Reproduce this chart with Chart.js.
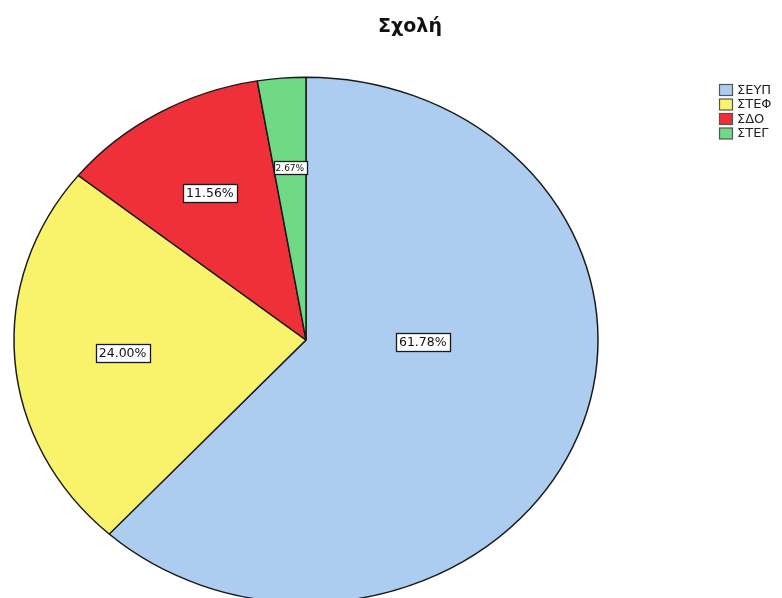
<!DOCTYPE html>
<html>
<head>
<meta charset="utf-8">
<script src="https://cdn.jsdelivr.net/npm/chart.js@4.4.1/dist/chart.umd.min.js"></script>
<style>
    html, body { margin: 0; padding: 0; background: #fff; overflow: hidden; }
    #wrap { position: relative; width: 782px; height: 598px; }
</style>
</head>
<body>
<div id="wrap"><canvas id="schoolChart"></canvas></div>
<script>
// === DATOS ===
const chartTitle = 'Σχολή';
const categories = ['ΣΕΥΠ', 'ΣΤΕΦ', 'ΣΔΟ', 'ΣΤΕΓ'];
const percentages = [61.78, 24.00, 11.56, 2.67];
const sliceColors = ['#accdef', '#f8f36a', '#ef3038', '#6fd985'];

// pie is drawn squashed vertically (ellipse), like the SPSS output
const squashPlugin = {
    id: 'squash',
    beforeDatasetDraw(chart, args, opts) {
        const arc = args.meta.data[0];
        const ctx = chart.ctx;
        ctx.save();
        ctx.translate(arc.x, arc.y);
        ctx.scale(1, opts.ratio);
        ctx.translate(-arc.x, -arc.y);
    },
    afterDatasetDraw(chart) {
        chart.ctx.restore();
    }
};

// percentage boxes, title and legend
const decorPlugin = {
    id: 'decor',
    afterDraw(chart, args, opts) {
        const ctx = chart.ctx;
        const ratio = chart.options.plugins.squash.ratio;
        const arcs = chart.getDatasetMeta(0).data;

        arcs.forEach((arc, i) => {
            const mid = (arc.startAngle + arc.endAngle) / 2 + opts.angleShift[i] * Math.PI / 180;
            const r = arc.outerRadius * opts.labelRadius[i];
            const px = arc.x + Math.cos(mid) * r;
            const py = arc.y + Math.sin(mid) * r * ratio;
            const small = percentages[i] < 5;
            const text = percentages[i].toFixed(2) + '%';
            ctx.save();
            ctx.font = (small ? 9 : 12.5) + 'px "DejaVu Sans"';
            const w = ctx.measureText(text).width + (small ? 4 : 6);
            const h = small ? 13 : 18;
            ctx.fillStyle = '#fff';
            ctx.fillRect(Math.round(px - w / 2) + 0.5, Math.round(py - h / 2) + 0.5, Math.round(w), h);
            ctx.strokeStyle = '#1a1a1a';
            ctx.lineWidth = 1.3;
            ctx.strokeRect(Math.round(px - w / 2) + 0.5, Math.round(py - h / 2) + 0.5, Math.round(w), h);
            ctx.fillStyle = '#111';
            ctx.textAlign = 'center';
            ctx.textBaseline = 'middle';
            ctx.fillText(text, px, py + 1);
            ctx.restore();
        });

        // title
        ctx.save();
        ctx.font = 'bold 19px "DejaVu Sans"';
        ctx.fillStyle = '#111';
        ctx.textAlign = 'center';
        ctx.textBaseline = 'middle';
        ctx.fillText(chartTitle, 410, 27);

        // legend
        ctx.font = '13px "DejaVu Sans"';
        ctx.textAlign = 'left';
        categories.forEach((cat, i) => {
            const y = 84 + i * 14.5;
            ctx.fillStyle = sliceColors[i];
            ctx.fillRect(719.5, y + 0.5, 13, 11);
            ctx.strokeStyle = '#555';
            ctx.lineWidth = 1.2;
            ctx.strokeRect(719.5, y + 0.5, 13, 11);
            ctx.fillStyle = '#222';
            ctx.fillText(cat, 737, y + 6.5);
        });
        ctx.restore();
    }
};

const schoolCtx = document.getElementById('schoolChart').getContext('2d');
new Chart(schoolCtx, {
    type: 'pie',
    data: {
        labels: categories,
        datasets: [{
            data: percentages,
            backgroundColor: sliceColors,
            borderColor: '#1a1a1a',
            borderWidth: 1.5,
            clip: false
        }]
    },
    options: {
        responsive: true,
        maintainAspectRatio: false,
        animation: false,
        radius: 292,
        layout: { padding: { left: 0, right: 170, top: 82, bottom: 0 } },
        plugins: {
            legend: { display: false },
            tooltip: { enabled: false },
            squash: { ratio: 0.9 },
            decor: {
                labelRadius: [0.40, 0.63, 0.65, 0.66],
                angleShift: [-20, 0, 0, 0]
            }
        }
    },
    plugins: [squashPlugin, decorPlugin]
});
</script>
</body>
</html>
